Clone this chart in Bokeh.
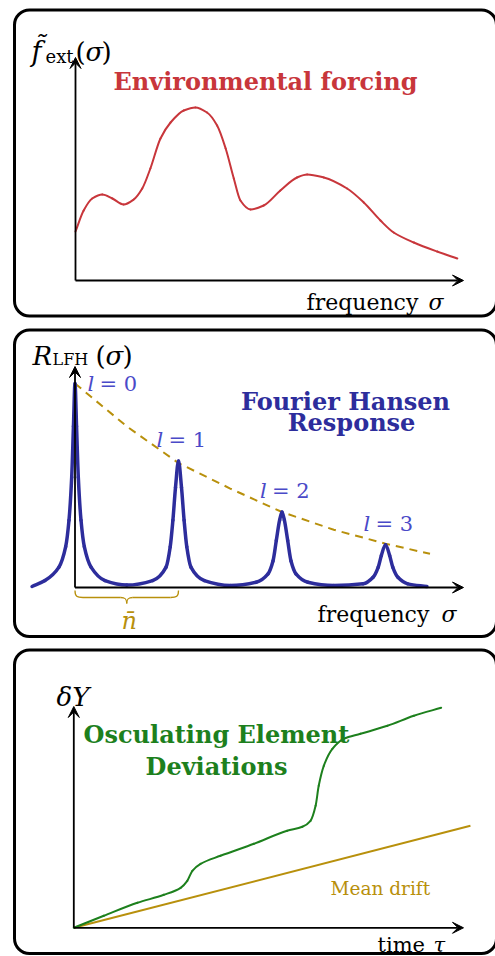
import numpy as np
from bokeh.plotting import figure
from bokeh.models import Range1d, Label, Arrow, VeeHead, BoxAnnotation
from bokeh.layouts import column
from bokeh.embed import file_html
from bokeh.resources import INLINE

# ---------------- data ----------------
# Panel 1: environmental forcing spectrum
forcing_sigma = [0.0, 0.21, 0.43, 0.69, 0.95, 1.24, 1.50, 1.72, 1.93, 2.19, 2.45, 2.79, 3.09,
                 3.39, 3.65, 3.87, 4.08, 4.25, 4.51, 4.85, 5.28, 5.71, 5.97, 6.40, 7.00,
                 7.43, 7.86, 8.20, 8.72, 9.32, 9.84]
forcing_amp = [0.245, 0.35, 0.41, 0.43, 0.41, 0.38, 0.405, 0.46, 0.56, 0.71, 0.79, 0.85, 0.865,
               0.84, 0.775, 0.66, 0.51, 0.40, 0.355, 0.375, 0.45, 0.515, 0.53, 0.515, 0.46,
               0.39, 0.30, 0.24, 0.19, 0.145, 0.11]

# Panel 2: Fourier-Hansen response (sigma in units of n-bar)
peak_positions = [0, 1, 2, 3]
peak_heights = [1.0, 0.62, 0.37, 0.21]
mode_numbers = ["0", "1", "2", "3"]
response_sigma = [-0.415, -0.29, -0.155, -0.09, -0.058, -0.032, -0.015, 0.0, 0.015, 0.032, 0.058, 0.09, 0.155, 0.29, 0.5,
                  0.75, 0.88, 0.92, 0.946, 0.971, 1.0, 1.029, 1.054, 1.08, 1.12, 1.25, 1.5,
                  1.75, 1.865, 1.913, 1.945, 1.977, 2.0, 2.023, 2.055, 2.087, 2.135, 2.25, 2.5,
                  2.785, 2.88, 2.93, 2.96, 3.0, 3.04, 3.07, 3.12, 3.215, 3.40]
response_amp = [0.005, 0.034, 0.10, 0.20, 0.33, 0.54, 0.79, 1.0, 0.79, 0.54, 0.33, 0.20, 0.10, 0.034, 0.012,
                0.034, 0.10, 0.20, 0.33, 0.49, 0.62, 0.49, 0.33, 0.20, 0.10, 0.034, 0.010,
                0.026, 0.067, 0.13, 0.23, 0.33, 0.37, 0.33, 0.23, 0.13, 0.067, 0.026, 0.010,
                0.018, 0.05, 0.10, 0.157, 0.21, 0.157, 0.10, 0.05, 0.018, 0.005]
envelope_sigma = [0.0, 0.5, 1.0, 1.5, 2.0, 2.5, 3.0, 3.43]
envelope_amp = [1.0, 0.79, 0.61, 0.485, 0.37, 0.283, 0.215, 0.165]

# Panel 3: osculating element deviations vs time
time_tau = [0.0, 0.77, 1.63, 2.31, 2.74, 2.91, 3.04, 3.25, 3.76, 4.62, 5.47, 5.86, 6.07, 6.20,
            6.28, 6.41, 6.63, 6.92, 7.35, 8.04, 8.72, 9.42]
deviation = [0.0, 0.06, 0.125, 0.165, 0.20, 0.235, 0.285, 0.32, 0.36, 0.42, 0.485, 0.505, 0.535,
             0.61, 0.71, 0.81, 0.895, 0.945, 0.97, 1.01, 1.06, 1.10]
drift_tau = [0.0, 10.17]
drift_val = [0.0, 0.51]

# ---------------- style ----------------
SERIF = "DejaVu Serif"
RED = "#c8363b"
BLUE = "#2d2d9c"
LBLUE = "#4a4ac8"
GOLD = "#b8900c"
GREEN = "#1d801d"
W = 495


def make_panel(top, height, x0px, xs, y0px, ys):
    def X(px):
        return (px - x0px) / xs

    def Y(py):
        return (y0px - py) / ys

    p = figure(width=W, height=height, x_range=Range1d(X(0), X(W)),
               y_range=Range1d(Y(top + height), Y(top)), output_backend="svg",
               toolbar_location=None, min_border=0, x_axis_location=None,
               y_axis_location=None, title=None)
    p.grid.visible = False
    p.outline_line_color = None
    p.background_fill_color = "white"
    p.border_fill_color = "white"
    return p, X, Y


def smooth_line(p, xs, ys, **kw):
    """Draw the read points as a monotone (PCHIP-style) smooth path of Bezier pieces."""
    x = np.asarray(xs, float)
    y = np.asarray(ys, float)
    h = np.diff(x)
    d = np.diff(y) / h
    m = np.zeros_like(x)
    m[0], m[-1] = d[0], d[-1]
    for k in range(1, len(x) - 1):
        if d[k - 1] * d[k] <= 0:
            m[k] = 0.0
        else:
            w1 = 2 * h[k] + h[k - 1]
            w2 = h[k] + 2 * h[k - 1]
            m[k] = (w1 + w2) / (w1 / d[k - 1] + w2 / d[k])
    p.bezier(x0=x[:-1], y0=y[:-1], x1=x[1:], y1=y[1:],
             cx0=x[:-1] + h / 3, cy0=y[:-1] + m[:-1] * h / 3,
             cx1=x[1:] - h / 3, cy1=y[1:] - m[1:] * h / 3,
             line_cap="round", **kw)


def lab(p, X, Y, px, py, text, size, color="black", style="normal", align="left", font=SERIF):
    p.add_layout(Label(x=X(px), y=Y(py), text=text, text_font=font,
                       text_font_size=f"{size}px", text_color=color,
                       text_font_style=style, text_align=align,
                       text_baseline="alphabetic"))


def frame_box(p, X, Y, top, bottom):
    p.add_layout(BoxAnnotation(left=X(14), right=X(496), top=Y(top), bottom=Y(bottom),
                               fill_alpha=0, line_color="black", line_alpha=1.0, line_width=3,
                               border_radius=15))


def axes(p, xend, yend):
    for xe, ye in ((xend, 0), (0, yend)):
        p.add_layout(Arrow(end=VeeHead(size=11, fill_color="black", line_color="black", line_width=1),
                           x_start=0, y_start=0, x_end=xe, y_end=ye,
                           line_color="black", line_width=1.8))


# ---------------- panel 1 ----------------
p1, X1, Y1 = make_panel(0, 320, 75, 38.8, 280, 200)
frame_box(p1, X1, Y1, 9.5, 315.5)
axes(p1, X1(463), Y1(57))
smooth_line(p1, forcing_sigma, forcing_amp, line_color=RED, line_width=2)
lab(p1, X1, Y1, 31, 51, "f\u0303", 27, style="italic")
lab(p1, X1, Y1, 45, 56, "ext", 18)
lab(p1, X1, Y1, 75, 51, "(", 26)
lab(p1, X1, Y1, 85, 51, "σ", 26, style="italic")
lab(p1, X1, Y1, 101, 51, ")", 26)
lab(p1, X1, Y1, 265, 81, "Environmental forcing", 24, color=RED, style="bold", align="center")
lab(p1, X1, Y1, 306, 302, "frequency", 22)
lab(p1, X1, Y1, 428, 302, "σ", 22, style="italic")

# ---------------- panel 2 ----------------
p2, X2, Y2 = make_panel(320, 320, 74.5, 103.5, 587, 204)
frame_box(p2, X2, Y2, 329.5, 636)
axes(p2, X2(463), Y2(366))
p2.line(envelope_sigma, envelope_amp, line_color=GOLD, line_width=2, line_dash="8 6")
smooth_line(p2, response_sigma, response_amp, line_color=BLUE, line_width=3.5)
# brace spanning one peak spacing (n-bar)
bx0, bx1 = peak_positions[0], peak_positions[1]
bm = 0.5 * (bx0 + bx1)
dx = 1.0 / 103.5
dy = 1.0 / 204
yt, yh, ytip = -3 * dy, -10 * dy, -16 * dy
p2.bezier(x0=[bx0, bx1], y0=[yt, yt], x1=[bx0 + 8 * dx, bx1 - 8 * dx], y1=[yh, yh],
          cx0=[bx0, bx1], cy0=[yh + 1 * dy, yh + 1 * dy], cx1=[bx0 + 2 * dx, bx1 - 2 * dx], cy1=[yh, yh],
          line_color=GOLD, line_width=1.3)
p2.segment(x0=[bx0 + 8 * dx, bm + 6 * dx], y0=[yh, yh], x1=[bm - 6 * dx, bx1 - 8 * dx], y1=[yh, yh],
           line_color=GOLD, line_width=1.3)
p2.bezier(x0=[bm - 6 * dx, bm + 6 * dx], y0=[yh, yh], x1=[bm, bm], y1=[ytip, ytip],
          cx0=[bm - 2 * dx, bm + 2 * dx], cy0=[yh, yh], cx1=[bm, bm], cy1=[yh - 1 * dy, yh - 1 * dy],
          line_color=GOLD, line_width=1.3)
lab(p2, X2, Y2, 121, 620, "n\u0304", 24, color=GOLD, style="italic")
for pos, h, m in zip(peak_positions, peak_heights, mode_numbers):
    xo, yo = (12.5, 0) if m == "0" else (-22, 21)
    p2.add_layout(Label(x=pos, y=h, x_offset=xo, y_offset=yo, text="l", text_font=SERIF,
                        text_font_size="21px", text_color=LBLUE, text_font_style="italic",
                        text_baseline="alphabetic"))
    p2.add_layout(Label(x=pos, y=h, x_offset=xo + 12, y_offset=yo, text="= " + m, text_font=SERIF,
                        text_font_size="21px", text_color=LBLUE, text_baseline="alphabetic"))
lab(p2, X2, Y2, 32, 355, "R", 26, style="italic")
lab(p2, X2, Y2, 52, 359, "LFH", 16)
lab(p2, X2, Y2, 95, 355, "(", 26)
lab(p2, X2, Y2, 105, 355, "σ", 26, style="italic")
lab(p2, X2, Y2, 122, 355, ")", 26)
lab(p2, X2, Y2, 345, 401, "Fourier Hansen", 24, color=BLUE, style="bold", align="center")
lab(p2, X2, Y2, 351, 422, "Response", 24, color=BLUE, style="bold", align="center")
lab(p2, X2, Y2, 317, 614, "frequency", 22)
lab(p2, X2, Y2, 441, 614, "σ", 22, style="italic")

# ---------------- panel 3 ----------------
p3, X3, Y3 = make_panel(640, 316, 73.3, 39, 927.3, 200)
frame_box(p3, X3, Y3, 649.5, 953)
axes(p3, X3(463), Y3(706))
p3.line(drift_tau, drift_val, line_color=GOLD, line_width=2)
smooth_line(p3, time_tau, deviation, line_color=GREEN, line_width=2)
lab(p3, X3, Y3, 56, 696, "δY", 26, style="italic")
lab(p3, X3, Y3, 216, 734, "Osculating Element", 24, color=GREEN, style="bold", align="center")
lab(p3, X3, Y3, 216, 766, "Deviations", 24, color=GREEN, style="bold", align="center")
lab(p3, X3, Y3, 330, 888, "Mean drift", 18.5, color=GOLD)
lab(p3, X3, Y3, 377, 944, "time", 21)
lab(p3, X3, Y3, 433, 944, "τ", 21, style="italic")

layout = column(p1, p2, p3, spacing=0)
open("out.html", "w").write(file_html(layout, INLINE))
